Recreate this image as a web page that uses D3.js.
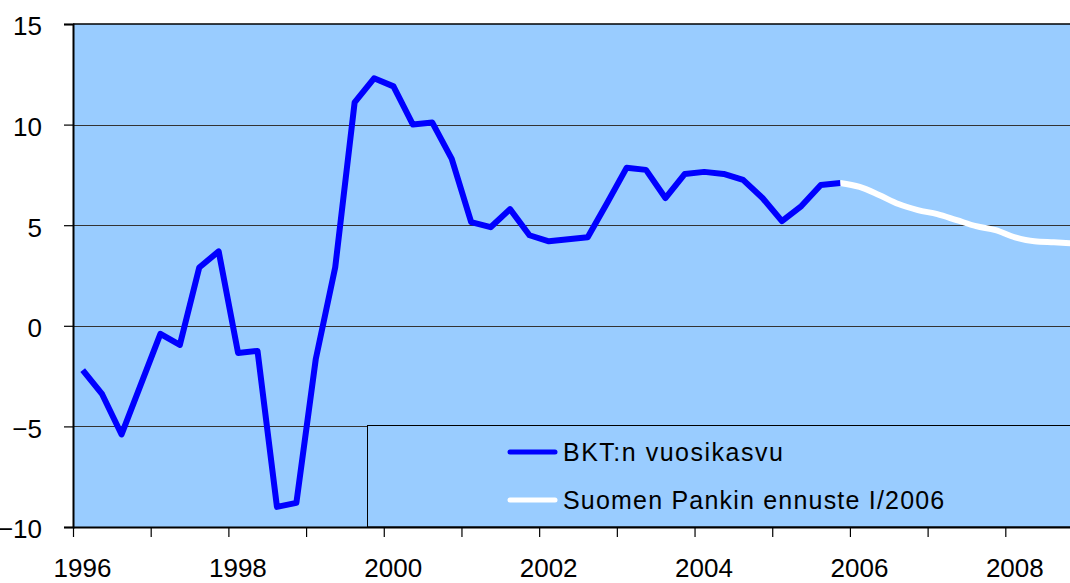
<!DOCTYPE html>
<html>
<head>
<meta charset="utf-8">
<script src="https://cdn.jsdelivr.net/npm/d3@7"></script>
<style>
  body { margin: 0; background: #fff; }
  text { font-family: "Liberation Sans", Arial, sans-serif; }
</style>
</head>
<body>
<div id="chart"></div>
<script>
var svgWidth = 1070;
var svgHeight = 583;

// quarterly GDP growth, 1996Q1 .. 2005Q4
var gdpStartYear = 1996;
var gdpGrowth = [
  -2.2, -3.4, -5.4, -2.9,
  -0.4, -0.95, 2.9, 3.7,
  -1.35, -1.25, -9.0, -8.8,
  -1.65, 2.9, 11.1, 12.3,
  11.9, 10.0, 10.1, 8.3,
  5.15, 4.9, 5.8, 4.5,
  4.2, 4.3, 4.4, 6.1,
  7.85, 7.75, 6.35, 7.55,
  7.65, 7.55, 7.25, 6.35,
  5.2, 5.95, 7.0, 7.1
];

// forecast, starts at 2005Q4
var forecastStartYear = 2005.75;
var forecast = [7.1, 6.9, 6.5, 6.05, 5.75, 5.55, 5.25, 4.95, 4.75, 4.4, 4.2, 4.15, 4.1];

var yTicks = [-10, -5, 0, 5, 10, 15];
var gridValues = [-5, 0, 5, 10];
var legendLabels = ["BKT:n vuosikasvu", "Suomen Pankin ennuste I/2006"];
var legendSpacing = [1.5, 1.2];
var seriesColors = ["#0000ff", "#ffffff"];

var margin = { top: 24, left: 73, bottom: 56 };
var plotRight = 1083;
var plotBottom = svgHeight - margin.bottom; // 527

var svg = d3.select("#chart")
  .append("svg")
  .attr("width", svgWidth)
  .attr("height", svgHeight);

var x = d3.scaleLinear()
  .domain([1996, 2009])
  .range([margin.left, plotRight]);

var y = d3.scaleLinear()
  .domain([-10, 15])
  .range([plotBottom, margin.top]);

// plot background
svg.append("rect")
  .attr("x", margin.left)
  .attr("y", margin.top)
  .attr("width", plotRight - margin.left)
  .attr("height", plotBottom - margin.top)
  .attr("fill", "#99ccff");

// gridlines
svg.selectAll(".grid")
  .data(gridValues)
  .enter()
  .append("line")
  .attr("x1", margin.left)
  .attr("x2", plotRight)
  .attr("y1", d => Math.round(y(d)) + 0.5)
  .attr("y2", d => Math.round(y(d)) + 0.5)
  .attr("stroke", "#333")
  .attr("stroke-width", 1);

// top border
svg.append("line")
  .attr("x1", margin.left)
  .attr("x2", plotRight)
  .attr("y1", y(15))
  .attr("y2", y(15))
  .attr("stroke", "#000")
  .attr("stroke-width", 1.5);

// legend box (behind lines)
var legend = svg.append("g");
legend.append("rect")
  .attr("x", 367.5)
  .attr("y", 425.5)
  .attr("width", 720)
  .attr("height", plotBottom - 425.5)
  .attr("fill", "#99ccff")
  .attr("stroke", "#000")
  .attr("stroke-width", 1);

legendLabels.forEach(function(label, i) {
  var ly = 452 + i * 48;
  legend.append("line")
    .attr("x1", 510)
    .attr("x2", 555)
    .attr("y1", ly)
    .attr("y2", ly)
    .attr("stroke", seriesColors[i])
    .attr("stroke-width", 5)
    .attr("stroke-linecap", "round");
  legend.append("text")
    .attr("x", 563)
    .attr("y", ly)
    .attr("dy", "0.36em")
    .attr("font-size", 25)
    .attr("letter-spacing", legendSpacing[i])
    .attr("fill", "#000")
    .text(label);
});

// series
var gdpLine = d3.line()
  .x((d, i) => x(gdpStartYear + (i + 0.5) / 4))
  .y(d => y(d))
  .curve(d3.curveLinear);

var forecastLine = d3.line()
  .x((d, i) => x(forecastStartYear + (i + 0.5) / 4))
  .y(d => y(d))
  .curve(d3.curveMonotoneX);

svg.append("path")
  .datum(forecast)
  .attr("d", forecastLine)
  .attr("fill", "none")
  .attr("stroke", seriesColors[1])
  .attr("stroke-width", 6)
  .attr("stroke-linejoin", "round");

svg.append("path")
  .datum(gdpGrowth)
  .attr("d", gdpLine)
  .attr("fill", "none")
  .attr("stroke", seriesColors[0])
  .attr("stroke-width", 6)
  .attr("stroke-linejoin", "round");

// y axis
var leftAxis = d3.axisLeft(y)
  .tickValues(yTicks)
  .tickSize(9)
  .tickPadding(22);

var yAxis = svg.append("g")
  .attr("transform", `translate(${margin.left}, 0)`)
  .call(leftAxis);
yAxis.select(".domain").attr("stroke-width", 2);
yAxis.selectAll(".tick line").attr("stroke-width", 1.2);
yAxis.selectAll("text")
  .attr("font-size", 26)
  .attr("dy", "0.42em")
  .attr("font-family", "Liberation Sans, Arial, sans-serif")
  .attr("fill", "#000");

// x axis
var bottomAxis = d3.axisBottom(x)
  .tickValues(d3.range(1996, 2010))
  .tickFormat(d => d % 2 === 0 ? d : "")
  .tickSizeInner(10)
  .tickSizeOuter(0)
  .tickPadding(22);

var xAxis = svg.append("g")
  .attr("transform", `translate(0, ${plotBottom})`)
  .call(bottomAxis);
xAxis.select(".domain").attr("stroke-width", 2);
xAxis.selectAll(".tick line").attr("stroke-width", 1.2);
xAxis.selectAll("text")
  .attr("font-size", 26)
  .attr("dx", 9)
  .attr("font-family", "Liberation Sans, Arial, sans-serif")
  .attr("fill", "#000");
</script>
</body>
</html>
